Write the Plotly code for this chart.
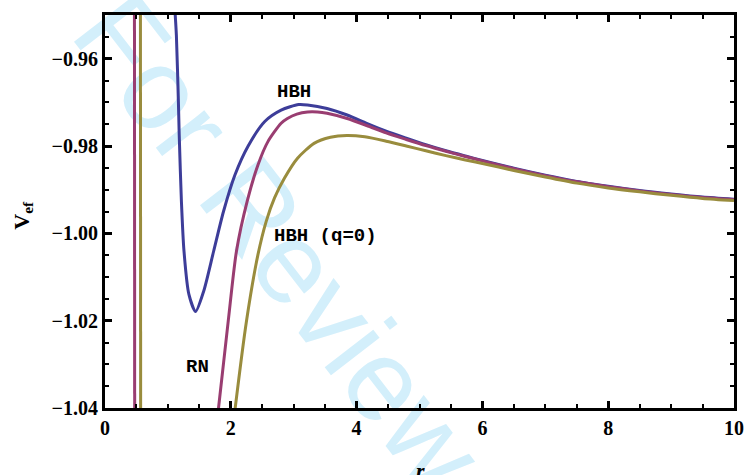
import plotly.graph_objects as go

# Effective potential V_ef(r) for the three black-hole cases
r_hbh = [1.112, 1.135, 1.167, 1.18, 1.215, 1.256, 1.334, 1.44, 1.57, 1.727,
         1.884, 2.067, 2.276, 2.54, 2.80, 3.08, 3.22, 3.53, 3.85, 4.16, 4.47,
         4.79, 5.10, 5.42, 5.73, 6.0, 6.5, 7.0, 7.5, 8.0, 8.5, 9.0, 9.5, 10.0]
v_hbh = [-0.949, -0.9547, -0.9699, -0.9775, -0.9927, -1.0041, -1.0140, -1.0179,
         -1.0132, -1.0041, -0.9950, -0.9866, -0.9800, -0.9744, -0.9718, -0.9705,
         -0.9706, -0.9714, -0.9729, -0.9748, -0.9766, -0.9782, -0.9797, -0.9811,
         -0.9823, -0.9833, -0.9851, -0.9867, -0.9881, -0.9892, -0.9902, -0.9910,
         -0.9917, -0.9922]

r_rn = [0.468, 0.472, None,
        1.78, 1.805, 1.96, 2.09, 2.26, 2.433, 2.59, 2.80, 2.90, 3.05, 3.22, 3.38,
        3.53, 3.85, 4.16, 4.47, 4.79, 5.10, 5.42, 5.73, 6.0, 6.5, 7.0, 7.5, 8.0,
        8.5, 9.0, 9.5, 10.0]
v_rn = [-0.94, -1.05, None,
        -1.043, -1.040, -1.020, -1.0041, -0.9927, -0.9843, -0.9790, -0.9748,
        -0.9737, -0.9727, -0.9722, -0.9722, -0.9725, -0.9737, -0.9753, -0.9770,
        -0.9785, -0.9799, -0.9812, -0.9824, -0.9834, -0.9852, -0.9868, -0.9882,
        -0.9893, -0.9903, -0.9911, -0.9918, -0.9923]

r_q0 = [0.563, 0.567, None,
        2.05, 2.07, 2.25, 2.43, 2.564, 2.695, 2.852, 3.061, 3.323, 3.584, 3.846,
        4.13, 4.47, 4.79, 5.10, 5.42, 5.73, 6.0, 6.5, 7.0, 7.5, 8.0, 8.5, 9.0,
        9.5, 10.0]
v_q0 = [-0.94, -1.05, None,
        -1.0425, -1.040, -1.020, -1.0050, -0.9972, -0.9919, -0.9874, -0.9828,
        -0.9794, -0.9780, -0.9776, -0.9779, -0.9789, -0.9800, -0.9811, -0.9822,
        -0.9832, -0.9840, -0.9856, -0.9871, -0.9885, -0.9896, -0.9905, -0.9913,
        -0.9920, -0.9925]

# Curve labels
label_text = ["HBH", "HBH (q=0)", "RN"]
label_r = [3.01, 3.51, 1.465]
label_v = [-0.9676, -1.0005, -1.0307]

x_ticks = [0, 2, 4, 6, 8, 10]
y_ticks = [-0.96, -0.98, -1.00, -1.02, -1.04]

colors = ["#3d3d99", "#993d71", "#998c3d"]

fig = go.Figure()
for rr, vv, c in [(r_hbh, v_hbh, colors[0]), (r_rn, v_rn, colors[1]), (r_q0, v_q0, colors[2])]:
    fig.add_trace(go.Scatter(x=rr, y=vv, mode="lines", connectgaps=False,
                             line=dict(color=c, width=3, shape="spline", smoothing=0.7),
                             showlegend=False, hoverinfo="skip"))

for t, xr, yv in zip(label_text, label_r, label_v):
    fig.add_annotation(x=xr, y=yv, text="<b>" + t + "</b>", showarrow=False,
                       font=dict(family="Liberation Mono", size=19, color="black"))

tick_font = dict(family="Liberation Serif", size=20, color="black")
axis_common = dict(showline=True, linewidth=3, linecolor="black", mirror="allticks",
                   ticks="inside", ticklen=7, tickwidth=2.5, tickcolor="black",
                   showgrid=False, zeroline=False, tickfont=tick_font)

fig.update_xaxes(range=[0, 10], tickvals=x_ticks,
                 ticktext=["<b>%d</b>" % v for v in x_ticks],
                 minor=dict(dtick=0.5, ticks="inside", ticklen=4, tickwidth=2,
                            tickcolor="black"),
                 **axis_common)
fig.update_yaxes(range=[-1.04, -0.95], tickvals=y_ticks,
                 ticktext=["<b>\u2212%.2f</b>" % abs(v) for v in y_ticks],
                 minor=dict(dtick=0.005, tick0=-1.04, ticks="inside", ticklen=4,
                            tickwidth=2, tickcolor="black"),
                 **axis_common)

# Axis titles
fig.add_annotation(xref="paper", yref="paper", x=-0.130, y=0.49, textangle=-90,
                   xanchor="center", yanchor="middle",
                   text="<b>V<sub>ef</sub></b>", showarrow=False,
                   font=dict(family="Liberation Serif", size=22, color="black"))
fig.add_annotation(xref="paper", yref="paper", x=0.5008, y=-0.16,
                   xanchor="center", yanchor="middle",
                   text="<b><i>r</i></b>", showarrow=False,
                   font=dict(family="Liberation Serif", size=22, color="black"))

# Diagonal review stamp behind the curves
fig.add_shape(type="line", xref="paper", yref="paper",
              x0=0.0973, y0=0.840, x1=0.4835, y1=0.038, layer="below",
              line=dict(color="rgba(0,0,0,0)", width=1),
              label=dict(text="For Review", textposition="middle",
                         yanchor="middle",
                         font=dict(family="Liberation Sans", size=116, color="#d3effb")))

fig.update_layout(width=756, height=475, margin=dict(l=105, r=14, t=14, b=67),
                  plot_bgcolor="white", paper_bgcolor="white")

fig.write_html("out.html")
